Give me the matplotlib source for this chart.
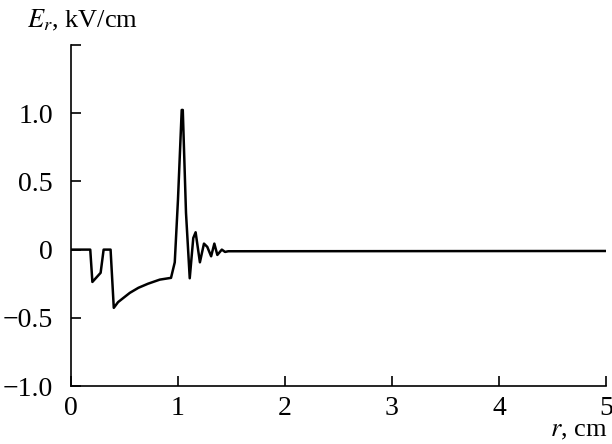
import matplotlib
matplotlib.use("Agg")
import matplotlib.pyplot as plt

r = [0.0, 0.18, 0.20, 0.277, 0.305, 0.37, 0.40, 0.44, 0.49, 0.55, 0.63, 0.72, 0.83, 0.935,
     0.97, 1.00, 1.035, 1.045, 1.075, 1.11, 1.143, 1.165, 1.205, 1.243, 1.274, 1.31, 1.34,
     1.368, 1.41, 1.44, 1.47, 5.0]
Er = [0.0, 0.0, -0.237, -0.17, 0.0, 0.0, -0.427, -0.385, -0.354, -0.317, -0.28, -0.25, -0.22, -0.207,
      -0.093, 0.366, 1.024, 1.024, 0.27, -0.21, 0.085, 0.127, -0.093, 0.044, 0.02, -0.049, 0.044,
      -0.039, 0.0, -0.017, -0.012, -0.01]

xticks = [0, 1, 2, 3, 4, 5]
xticklabels = ["0", "1", "2", "3", "4", "5"]
yticks = [-1.0, -0.5, 0.0, 0.5, 1.0, 1.5]
yticklabels = ["\u22121.0", "\u22120.5", "0", "0.5", "1.0", ""]

plt.rcParams['font.family'] = ['Liberation Serif', 'DejaVu Serif']
plt.rcParams['mathtext.fontset'] = 'stix'

fig = plt.figure(figsize=(6.12, 4.44), dpi=100)
ax = fig.add_axes([0.116, 0.1306, 0.874, 0.768])
ax.plot(r, Er, color='black', lw=1.8)
ax.set_xlim(0, 5)
ax.set_ylim(-1.0, 1.5)
ax.set_xticks(xticks)
ax.set_xticklabels(xticklabels)
ax.set_yticks(yticks)
ax.set_yticklabels(yticklabels)
for s in ['top', 'right']:
    ax.spines[s].set_visible(False)
for s in ['left', 'bottom']:
    ax.spines[s].set_linewidth(1.2)
ax.tick_params(direction='in', length=7, width=1.2, labelsize=20, pad=13)
ax.tick_params(axis='x', pad=7)
fig.text(0.044, 0.953, r"$E_r$, kV/cm", fontsize=19, ha='left', va='center')
fig.text(0.993, 0.03, r"$r$, cm", fontsize=19, ha='right', va='center')
fig.savefig("out.png", dpi=100)
